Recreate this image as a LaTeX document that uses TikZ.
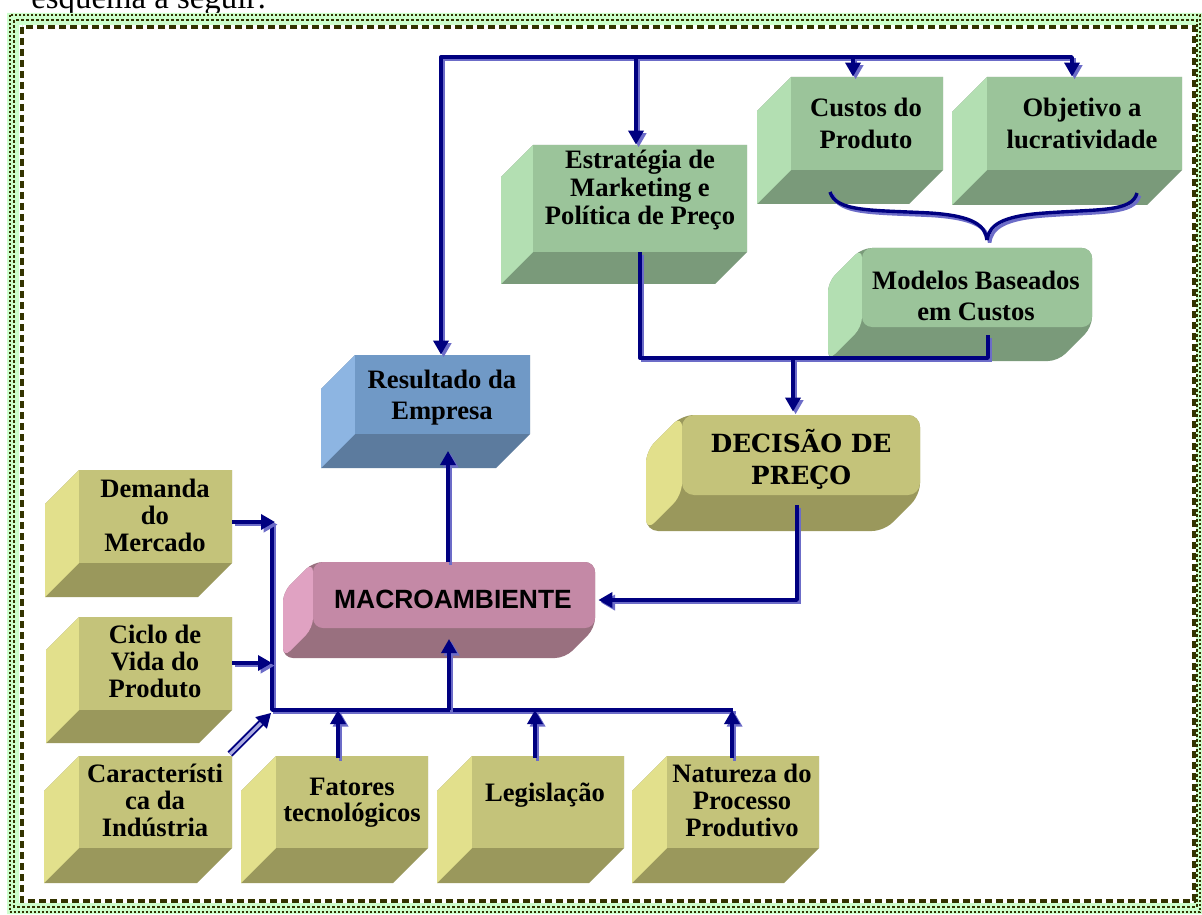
\documentclass[tikz,border=0pt]{standalone}
\usepackage{fontspec}
\setmainfont{Liberation Serif}
\newfontfamily\arialfont{Liberation Sans}
\newfontfamily\decfont{DejaVu Serif}
\usetikzlibrary{arrows.meta,fit,calc}
\definecolor{gfront}{HTML}{9BC49A}
\definecolor{gside}{HTML}{B3DFB2}
\definecolor{gbot}{HTML}{7A9A7A}
\definecolor{yfront}{HTML}{C4C37A}
\definecolor{yside}{HTML}{E2E08C}
\definecolor{ybot}{HTML}{9A985C}
\definecolor{bfront}{HTML}{7099C6}
\definecolor{bside}{HTML}{8DB5E2}
\definecolor{bbot}{HTML}{5C7B9E}
\definecolor{pfront}{HTML}{C489A6}
\definecolor{pside}{HTML}{E0A2C2}
\definecolor{pbot}{HTML}{99707F}
\definecolor{navy}{HTML}{000080}
\definecolor{shadowblue}{HTML}{6C6CC8}
\definecolor{bordergreen}{HTML}{CCFFCC}
\definecolor{borderdark}{HTML}{333300}
\newcommand\cubebox[8]{%
  \fill[#7bot,#8] (#2,#3) -- (#4,#3) -- (#4,#5) -- ({#4-#6},{#5+#6}) -- ({#2-#6},{#5+#6}) -- ({#2-#6},{#3+#6}) -- cycle;
  \fill[#7side,#8] (#2,#3) -- ({#2-#6},{#3+#6}) -- ({#2-#6},{#5+#6}) -- (#2,#5) -- cycle;
  \node[fit={(#2,#3) (#4,#5)}, inner sep=0pt, fill=#7front, #8] (#1) {};
}
\begin{document}
\begin{tikzpicture}[x=0.5pt,y=-0.5pt,
  bt/.style={font=\bfseries\fontsize{13.3}{14}\selectfont, align=center, inner sep=0pt},
  conn/.style={draw=navy, line width=1.7pt, line join=round,
    preaction={draw=shadowblue, line width=1.7pt, transform canvas={shift={(1.3pt,-1.3pt)}}}},
  arr/.style={conn, -{Triangle[length=7pt,width=7.5pt]}},
  arrboth/.style={conn, {Triangle[length=7pt,width=7.5pt]}-{Triangle[length=7pt,width=7.5pt]}},
  dbl/.style={draw=navy, line width=0.9pt, double=shadowblue!55, double distance=1.6pt,
    -{Triangle[length=7pt,width=8pt]}}]
\useasboundingbox (0,0) rectangle (1202,914);

% heading fragment
\node[anchor=base west, inner sep=0pt, font=\fontsize{16.4}{18}\selectfont] (head) at (31,9) {esquema a seguir:};

% border
\fill[white] (7,13) rectangle (1202,914);
\fill[bordergreen, even odd rule] (7,13) rectangle (1202,914) (19,25) rectangle (1196,903);
\draw[borderdark, line width=1pt, dash pattern=on 1pt off 1pt] (9.5,15.5) rectangle (1199.5,911.5);
\draw[borderdark, line width=1pt, dash pattern=on 1.5pt off 1pt] (14,20) rectangle (1197,907);
\draw[borderdark, line width=2pt, dash pattern=on 3.5pt off 2pt] (22,27) rectangle (1194,901);

% boxes
\cubebox{est}{533}{145}{747}{252}{32}{g}{sharp corners}
\node[bt] (est-t) at (640,190) {Estratégia de\\Marketing e\\Política de Preço};

\cubebox{cus}{791}{77}{943}{170}{34}{g}{sharp corners}
\node[bt, font=\bfseries\fontsize{13.3}{16}\selectfont] (cus-t) at (866,123) {Custos do\\Produto};

\cubebox{obj}{987}{77}{1182}{170}{35}{g}{sharp corners}
\node[bt, font=\bfseries\fontsize{13.3}{16}\selectfont] (obj-t) at (1082,123) {Objetivo a\\lucratividade};

\cubebox{mod}{862}{248}{1092}{327}{34}{g}{rounded corners=5pt}
\node[bt, font=\bfseries\fontsize{13.3}{15.5}\selectfont] (mod-t) at (976,296) {Modelos Baseados\\em Custos};

\cubebox{dec}{682}{415}{920}{495}{36}{y}{rounded corners=6pt}
\node[bt, font=\decfont\bfseries\fontsize{12.5}{16}\selectfont] (dec-t) at (801,459) {DECISÃO DE\\PREÇO};

\cubebox{res}{355}{355}{530}{434}{34}{b}{sharp corners}
\node[bt, font=\bfseries\fontsize{13.3}{15.5}\selectfont] (res-t) at (442,398) {Resultado da\\Empresa};

\cubebox{mac}{313}{562}{595}{628}{30}{p}{rounded corners=5pt}
\node[bt, font=\arialfont\bfseries\fontsize{13.2}{15}\selectfont] (mac-t) at (453,599) {MACROAMBIENTE};

\cubebox{dem}{79}{470}{232}{563}{34}{y}{sharp corners}
\node[bt, font=\bfseries\fontsize{13.3}{13.5}\selectfont] (dem-t) at (155,515) {Demanda\\do\\Mercado};

\cubebox{cic}{79}{617}{232}{710}{33}{y}{sharp corners}
\node[bt, font=\bfseries\fontsize{13.3}{13.5}\selectfont] (cic-t) at (155,661) {Ciclo de\\Vida do\\Produto};

\cubebox{car}{79}{756}{232}{848}{35}{y}{sharp corners}
\node[bt, font=\bfseries\fontsize{13.3}{13.5}\selectfont] (car-t) at (155,800) {Característi\\ca da\\Indústria};

\cubebox{fat}{276}{756}{428}{848}{35}{y}{sharp corners}
\node[bt, font=\bfseries\fontsize{13.3}{13}\selectfont] (fat-t) at (352,803) {Fatores\\tecnológicos};

\cubebox{leg}{472}{756}{624}{848}{35}{y}{sharp corners}
\node[bt] (leg-t) at (545,795) {Legislação};

\cubebox{nat}{667}{756}{819}{848}{35}{y}{sharp corners}
\node[bt, font=\bfseries\fontsize{13.3}{13.5}\selectfont] (nat-t) at (742,800) {Natureza do\\Processo\\Produtivo};

% top bus
\coordinate (tb1) at (441,57);
\coordinate (tb2) at (636,57);
\coordinate (tb3) at (853,57);
\coordinate (tb4) at (1072,57);
\draw[arrboth] (tb4 |- obj.north) -- (tb4) -- (tb1) -- (tb1 |- res.north);
\draw[arr] (tb2) -- (tb2 |- est.north);
\draw[arr] (tb3) -- (tb3 |- cus.north);

% brace
\coordinate (brl) at (830,192);
\coordinate (brr) at (1137,193);
\coordinate (brm) at (987,240);
\draw[conn] (brl) .. controls (836,212) and (872,210) .. (930,213) .. controls (975,216) and (985,226) .. (brm);
\draw[conn] (brr) .. controls (1132,212) and (1100,209) .. (1045,213) .. controls (1000,216) and (989,226) .. (brm);

% estrategia / modelos -> decisao
\coordinate (j2) at (988,358);
\coordinate (j3) at (793,358);
\coordinate (m1) at (988,335);
\draw[conn] (est.south) -- (est.south |- j2) -- (j2) -- (m1);
\draw[arr] (j3) -- ($(j3 |- dec.north)+(0,-3)$);

% decisao -> macro
\coordinate (d1) at (797,505);
\coordinate (d2) at (797,600);
\draw[arr] (d1) -- (d2) -- ($(d2 -| mac.east)+(3,0)$);

% macro -> resultado
\coordinate (mu) at (448,562);
\coordinate (ri) at (448,451);
\draw[arr] (mu) -- (ri);

% bottom bus
\coordinate (vt) at (272,522);
\coordinate (bl) at (272,710);
\coordinate (br) at (733,710);
\draw[conn] (vt) -- (bl) -- (br);
\coordinate (demo) at (232,522);
\coordinate (cico) at (232,663);
\coordinate (cicin) at (272,663);
\coordinate (caro) at (230,754);
\coordinate (carin) at (271,713);
\draw[arr] (demo) -- ($(vt)+(3,0)$);
\draw[arr] (cico) -- (cicin);
\draw[dbl] (caro) -- (carin);
\coordinate (fo) at (338,758);
\coordinate (lo) at (535,758);
\coordinate (no) at (732,758);
\draw[arr] (fo) -- (fo |- bl);
\draw[arr] (lo) -- (lo |- bl);
\draw[arr] (no) -- (no |- bl);
\coordinate (mb) at (449,710);
\coordinate (mbin) at (449,639);
\draw[arr] (mb) -- (mbin);
\end{tikzpicture}
\end{document}
